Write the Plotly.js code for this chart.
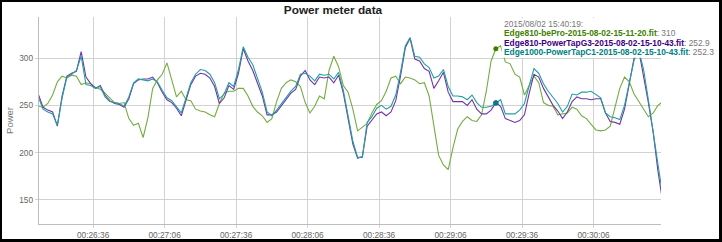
<!DOCTYPE html>
<html>
<head>
<meta charset="utf-8">
<script src="https://cdn.plot.ly/plotly-3.0.1.min.js"></script>
<style>
  html, body { margin: 0; padding: 0; background: #fff; }
  #chart { width: 717px; height: 237px; border-style: solid; border-color: #000; border-width: 2px 3px 3px 2px; }
</style>
</head>
<body>
<div id="chart"></div>
<script>
// ---------------- data ----------------
const chartTitle = 'Power meter data';
const yTitle = 'Power';
const seriesNames = [
  'Edge810-bePro-2015-08-02-15-11-20.fit',
  'Edge810-PowerTapG3-2015-08-02-15-10-43.fit',
  'Edge1000-PowerTapC1-2015-08-02-15-10-43.fit'
];
const times = [
  '00:26:13','00:26:15','00:26:17','00:26:19','00:26:21','00:26:23','00:26:25','00:26:27','00:26:29','00:26:31',
  '00:26:33','00:26:35','00:26:37','00:26:39','00:26:41','00:26:43','00:26:45','00:26:47','00:26:49','00:26:51',
  '00:26:53','00:26:55','00:26:57','00:26:59','00:27:01','00:27:03','00:27:05','00:27:07','00:27:09','00:27:11',
  '00:27:13','00:27:15','00:27:17','00:27:19','00:27:21','00:27:23','00:27:25','00:27:27','00:27:29','00:27:31',
  '00:27:33','00:27:35','00:27:37','00:27:39','00:27:41','00:27:43','00:27:45','00:27:47','00:27:49','00:27:51',
  '00:27:53','00:27:55','00:27:57','00:27:59','00:28:01','00:28:03','00:28:05','00:28:07','00:28:09','00:28:11',
  '00:28:13','00:28:15','00:28:17','00:28:19','00:28:21','00:28:23','00:28:25','00:28:27','00:28:29','00:28:31',
  '00:28:33','00:28:35','00:28:37','00:28:39','00:28:41','00:28:43','00:28:45','00:28:47','00:28:49','00:28:51',
  '00:28:53','00:28:55','00:28:57','00:28:59','00:29:01','00:29:03','00:29:05','00:29:07','00:29:09','00:29:11',
  '00:29:13','00:29:15','00:29:17','00:29:19','00:29:21','00:29:23','00:29:25','00:29:27','00:29:29','00:29:31',
  '00:29:33','00:29:35','00:29:37','00:29:39','00:29:41','00:29:43','00:29:45','00:29:47','00:29:49','00:29:51',
  '00:29:53','00:29:55','00:29:57','00:29:59','00:30:01','00:30:03','00:30:05','00:30:07','00:30:09','00:30:11',
  '00:30:13','00:30:15','00:30:17','00:30:19','00:30:21','00:30:23','00:30:25','00:30:27','00:30:29','00:30:31',
  '00:30:33','00:30:35'
];
const bePro = [
  249,248,252,261,275,281,279,282,281,272,
  274,273,269,267,263,258,253,252,253,236,
  229,231,216,237,268,277,283,295,277,259,
  265,256,255,246,244,243,240,238,252,263,
  265,265,268,268,260,249,243,239,232,236,
  254,268,274,277,275,270,253,242,249,260,
  257,287,302,291,271,264,246,223,227,231,
  242,251,255,265,279,281,273,280,279,277,
  273,274,260,228,197,187,182,205,225,233,
  238,234,233,240,265,297,310,313,296,294,
  283,280,261,271,281,274,253,250,249,240,
  241,242,248,246,239,236,230,224,223,224,
  228,247,268,280,275,262,254,246,238,242,
  250,254
];
const powerTapG3 = [
  262,248,245,243,228,260,281,284,286,307,
  280,273,268,271,261,255,252,251,248,257,
  273,277,278,278,280,274,264,256,253,247,
  239,256,272,281,284,283,279,270,252,258,
  271,267,284,310,297,287,274,260,240,240,
  243,250,257,263,267,281,287,277,272,280,
  279,280,274,282,263,238,209,194,196,228,
  234,241,243,239,243,255,281,311,321,299,
  297,289,286,268,276,285,264,254,254,254,
  250,256,246,241,241,245,252.9,249,236,234,
  232,234,240,263,283,280,268,259,250,244,
  236,243,254,259,257,257,256,257,257,242,
  233,232,230,246,272,300,308,282,253,222,
  181,148
];
const powerTapC1 = [
  259,246,243,241,229,258,280,283,287,302,
  272,271,268,270,259,254,253,252,249,259,
  274,278,277,276,278,275,266,258,255,249,
  242,258,274,283,288,287,283,274,257,262,
  274,270,288,312,301,293,279,264,243,239,
  245,252,259,265,270,283,284,281,276,283,
  282,283,278,285,266,241,212,195,195,232,
  238,247,250,246,249,261,285,313,322,302,
  301,294,290,279,281,288,270,260,260,259,
  256,261,253,248,248,249,252.3,256,241,241,
  241,245,252,271,289,284,273,265,259,252,
  243,249,262,261,264,264,265,261,258,242,
  238,237,235,250,275,298,308,288,256,220,
  188,155
];
const xTickLabels = ['00:26:36','00:27:06','00:27:36','00:28:06','00:28:36','00:29:06','00:29:36','00:30:06'];
const yTickValues = [150, 200, 250, 300];
const hoverTime = '00:29:25';
const hoverStamp = '2015/08/02 15:40:19:';
const hoverValues = [310, 252.9, 252.3];

// ---------------- styles ----------------
const FONT = 'Arial, "Liberation Sans", sans-serif';
const lineColors = ['rgb(116,172,66)', 'rgb(112,52,172)', 'rgb(36,158,160)'];
const textColors = ['#408000', '#400080', '#008080'];

function toSec(s) { const p = s.split(':').map(Number); return p[0] * 3600 + p[1] * 60 + p[2]; }
const xs = times.map(toSec);
const seriesValues = [bePro, powerTapG3, powerTapC1];

const traces = seriesValues.map((vals, i) => ({
  type: 'scatter', mode: 'lines', x: xs, y: vals, name: seriesNames[i],
  line: { color: lineColors[i], width: 1.1 }, hoverinfo: 'skip'
}));
[0, 1, 2].forEach(i => traces.push({
  type: 'scatter', mode: 'markers', x: [toSec(hoverTime)], y: [hoverValues[i]],
  marker: { color: textColors[i], size: 5 }, showlegend: false, hoverinfo: 'skip'
}));

const legendLines = [
  '<span style="color:#777">' + hoverStamp + '</span>'
].concat(seriesNames.map((n, i) =>
  '<b><span style="color:' + textColors[i] + '">' + n + '</span></b><span style="color:#777">: ' + hoverValues[i] + '</span>'
));
const legendY = [0.9664, 0.9207, 0.875, 0.8293];
const annotations = legendLines.map((t, i) => ({
  xref: 'paper', yref: 'paper', x: 0.746, y: legendY[i], xanchor: 'left', yanchor: 'middle',
  text: t, showarrow: false, font: { family: FONT, size: 8.4, color: '#777' }, borderpad: 0
}));

const layout = {
  width: 717, height: 237,
  margin: { l: 37, r: 58, t: 15, b: 14.5 },
  paper_bgcolor: '#fff', plot_bgcolor: '#fff',
  showlegend: false,
  font: { family: FONT, size: 8.3, color: '#666' },
  title: { text: '<b>' + chartTitle + '</b>', font: { family: FONT, size: 11.8, color: '#222' },
           x: 331 / 717, xanchor: 'center', xref: 'container', y: 1 - 7.5 / 237, yanchor: 'middle', yref: 'container' },
  xaxis: {
    range: [1573.3, 1834.3], automargin: false, ticklabelposition: 'outside',
    tickmode: 'array', tickvals: xTickLabels.map(toSec), ticktext: xTickLabels,
    showgrid: true, gridcolor: '#d2d2d2', gridwidth: 1,
    showline: true, linecolor: '#bdbdbd', linewidth: 1.3,
    ticks: 'outside', ticklen: 3, tickcolor: '#d2d2d2',
    zeroline: false, tickfont: { size: 8.3, color: '#666' }
  },
  yaxis: {
    range: [124.4, 343.6], automargin: false,
    tickmode: 'array', tickvals: yTickValues,
    showgrid: true, gridcolor: '#d2d2d2', gridwidth: 1,
    showline: true, linecolor: '#bdbdbd', linewidth: 1.3,
    ticks: 'outside', ticklen: 3, tickcolor: '#d2d2d2',
    zeroline: false, tickfont: { size: 8.3, color: '#666' },
    title: { text: yTitle, font: { size: 9.5, color: '#777' }, standoff: 4 }
  },
  shapes: [{
    type: 'rect', xref: 'paper', yref: 'paper', x0: 0.744, x1: 1.1, y0: 0.803, y1: 0.995,
    fillcolor: '#fff', line: { width: 0 }, layer: 'above'
  }],
  annotations: annotations
};

Plotly.newPlot('chart', traces, layout, { displayModeBar: false, staticPlot: true });
</script>
</body>
</html>
